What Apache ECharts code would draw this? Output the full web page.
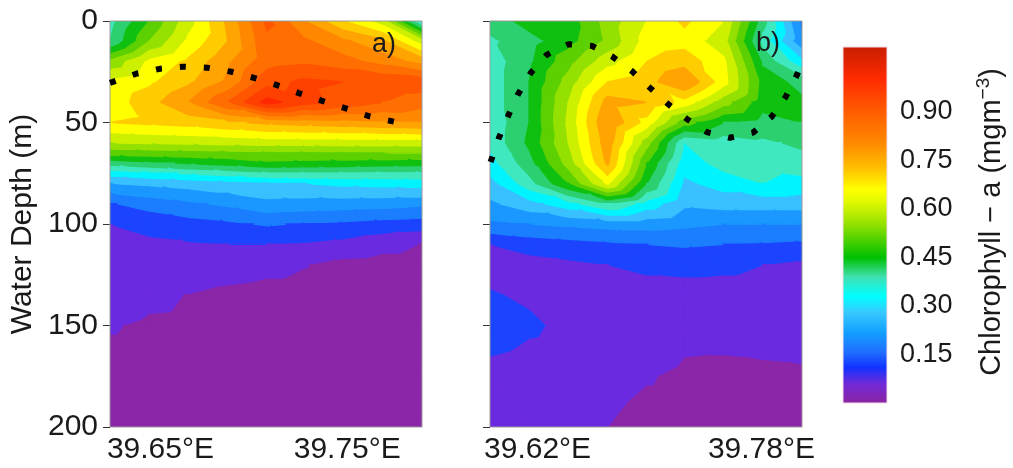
<!DOCTYPE html>
<html>
<head>
<meta charset="utf-8">
<script src="https://cdn.jsdelivr.net/npm/echarts@6/dist/echarts.min.js"></script>
<style>
  html, body { margin: 0; padding: 0; background: #fff; }
  #chart { width: 1013px; height: 468px; }
</style>
</head>
<body>
<div id="chart"></div>
<script>
// ---- Section a) : station longitudes, sample depths, chlorophyll-a (mg m^-3) ----
const lonA = [39.623, 39.644, 39.665, 39.686, 39.707, 39.727, 39.748, 39.769, 39.790];
const depthA = [0, 10, 20, 30, 40, 50, 60, 65, 70, 75, 80, 85, 90, 100, 110, 120, 135, 150, 175, 200];
const chlA = [
  [0.38, 0.50, 0.63, 0.76, 0.91, 0.80, 0.70, 0.62, 0.33],
  [0.40, 0.55, 0.66, 0.75, 0.89, 0.86, 0.81, 0.76, 0.62],
  [0.56, 0.66, 0.71, 0.79, 0.88, 0.89, 0.87, 0.83, 0.78],
  [0.66, 0.69, 0.74, 0.81, 0.93, 0.96, 0.95, 0.94, 0.93],
  [0.67, 0.73, 0.80, 0.90, 1.02, 0.97, 0.93, 0.90, 0.87],
  [0.70, 0.71, 0.72, 0.74, 0.76, 0.77, 0.78, 0.79, 0.80],
  [0.60, 0.605, 0.61, 0.615, 0.62, 0.62, 0.62, 0.62, 0.62],
  [0.52, 0.525, 0.53, 0.535, 0.54, 0.54, 0.545, 0.55, 0.55],
  [0.42, 0.44, 0.455, 0.47, 0.49, 0.485, 0.48, 0.475, 0.47],
  [0.32, 0.335, 0.355, 0.37, 0.39, 0.39, 0.39, 0.385, 0.385],
  [0.25, 0.26, 0.27, 0.28, 0.29, 0.30, 0.31, 0.315, 0.32],
  [0.20, 0.215, 0.23, 0.25, 0.265, 0.265, 0.27, 0.27, 0.27],
  [0.145, 0.17, 0.19, 0.21, 0.235, 0.23, 0.225, 0.22, 0.21],
  [0.10, 0.115, 0.13, 0.14, 0.155, 0.145, 0.14, 0.13, 0.125],
  [0.09, 0.09, 0.095, 0.10, 0.10, 0.095, 0.085, 0.065, 0.048],
  [0.08, 0.08, 0.075, 0.07, 0.062, 0.052, 0.035, 0.03, 0.03],
  [0.065, 0.056, 0.049, 0.04, 0.035, 0.035, 0.03, 0.03, 0.03],
  [0.052, 0.046, 0.045, 0.038, 0.035, 0.03, 0.03, 0.03, 0.03],
  [0.04, 0.04, 0.04, 0.035, 0.03, 0.03, 0.03, 0.03, 0.03],
  [0.035, 0.035, 0.035, 0.03, 0.03, 0.03, 0.03, 0.03, 0.03]
];
// dotted reference depth along section a) [longitude, depth m]
const lineA = [
  [39.623, 30.5], [39.637, 26], [39.650, 23.5], [39.662, 22.5], [39.675, 23],
  [39.688, 25], [39.700, 28], [39.712, 31.5], [39.724, 35.5], [39.737, 39.5],
  [39.750, 43.3], [39.762, 47], [39.776, 49.8]
];

// ---- Section b) ----
const lonB = [39.586, 39.614, 39.642, 39.670, 39.698, 39.725, 39.753, 39.781, 39.809];
const depthB = [0, 10, 20, 30, 40, 50, 60, 70, 80, 90, 100, 110, 120, 135, 150, 175, 200];
const chlB = [
  [0.42, 0.47, 0.47, 0.57, 0.65, 0.71, 0.65, 0.42, 0.18],
  [0.39, 0.43, 0.48, 0.56, 0.67, 0.68, 0.62, 0.38, 0.21],
  [0.37, 0.44, 0.53, 0.63, 0.70, 0.73, 0.66, 0.44, 0.31],
  [0.37, 0.45, 0.57, 0.70, 0.73, 0.80, 0.67, 0.48, 0.43],
  [0.37, 0.45, 0.60, 0.77, 0.75, 0.68, 0.57, 0.47, 0.46],
  [0.36, 0.45, 0.61, 0.80, 0.68, 0.52, 0.45, 0.43, 0.45],
  [0.36, 0.46, 0.60, 0.78, 0.57, 0.35, 0.37, 0.39, 0.41],
  [0.33, 0.43, 0.57, 0.76, 0.50, 0.32, 0.37, 0.37, 0.38],
  [0.28, 0.38, 0.50, 0.66, 0.45, 0.29, 0.32, 0.35, 0.33],
  [0.24, 0.28, 0.33, 0.40, 0.33, 0.26, 0.27, 0.27, 0.27],
  [0.19, 0.20, 0.21, 0.22, 0.22, 0.21, 0.20, 0.20, 0.20],
  [0.10, 0.12, 0.13, 0.14, 0.15, 0.155, 0.15, 0.145, 0.14],
  [0.075, 0.08, 0.09, 0.10, 0.115, 0.12, 0.115, 0.10, 0.09],
  [0.105, 0.09, 0.07, 0.075, 0.07, 0.07, 0.07, 0.07, 0.07],
  [0.13, 0.11, 0.085, 0.07, 0.07, 0.058, 0.058, 0.06, 0.062],
  [0.08, 0.07, 0.065, 0.06, 0.052, 0.045, 0.044, 0.045, 0.046],
  [0.06, 0.06, 0.055, 0.05, 0.04, 0.04, 0.04, 0.04, 0.04]
];
const lineB = [
  [39.5864, 69.5], [39.5924, 57.5], [39.5990, 46.7], [39.6061, 36.0], [39.6152, 25.5],
  [39.6264, 16.7], [39.6419, 11.5], [39.6590, 12.3], [39.6736, 17.6], [39.6871, 24.5],
  [39.7000, 32.7], [39.7129, 40.7], [39.7264, 48.1], [39.7409, 54.7], [39.7574, 57.5],
  [39.7740, 55.0], [39.7874, 47.1], [39.7974, 37.3], [39.8054, 26.6], [39.8088, 21]
];

// ---- axes / legend ticks ----
const depthTicks = [0, 50, 100, 150, 200];
const lonTicksA = [39.65, 39.75];
const lonTicksB = [39.62, 39.78];
const legendTicks = [0.15, 0.30, 0.45, 0.60, 0.75, 0.90];

// contour levels (mg m^-3) and the fill of each band between them
const levels = [0, 0.05, 0.10, 0.15, 0.20, 0.25, 0.30, 0.35, 0.40, 0.45, 0.50, 0.55,
                0.60, 0.65, 0.70, 0.75, 0.80, 0.85, 0.90, 0.95, 1.00, 1.05, 1.10];
const bandColors = [
  '#8b26a8', '#6a2ae0', '#1c44ff', '#1a7eff', '#1a98ff', '#38c0ff', '#00f4ff',
  '#40e8c0', '#2cd070', '#10c010', '#5cd000', '#94e000', '#cdf000', '#ffff00',
  '#ffcc00', '#ffa400', '#ff8800', '#ff6e00', '#ff5600', '#ff4000', '#ff2800', '#d82000'
];
// colour ramp of the legend bar
const rampStops = [
  [0.00, '#8b24a0'], [0.06, '#7229d8'], [0.11, '#1232ff'], [0.16, '#2070ff'],
  [0.22, '#12a0ff'], [0.28, '#38c8ff'], [0.33, '#00ffff'], [0.39, '#40e0b0'],
  [0.45, '#00c000'], [0.55, '#90e000'], [0.62, '#e0f800'], [0.66, '#ffff00'],
  [0.72, '#ffc400'], [0.80, '#ff8a00'], [0.90, '#ff5c00'], [1.00, '#ff2a00'], [1.10, '#c81e00']
];

const FONT = 'Liberation Sans, Arial, Helvetica, sans-serif';
const TXT = '#1a1a1a';

// keep the part of a polygon (points [x, y, value]) on one side of a level
function clipPoly(poly, level, keepAbove) {
  const out = [];
  const n = poly.length;
  for (let i = 0; i < n; i++) {
    const a = poly[i], b = poly[(i + 1) % n];
    const ain = keepAbove ? a[2] >= level : a[2] <= level;
    const bin = keepAbove ? b[2] >= level : b[2] <= level;
    if (ain) out.push(a);
    if (ain !== bin) {
      const t = (level - a[2]) / (b[2] - a[2]);
      out.push([a[0] + t * (b[0] - a[0]), a[1] + t * (b[1] - a[1]), level]);
    }
  }
  return out;
}

// filled-contour series: each grid cell is split in two triangles and cut into bands
function contourSeries(lons, depths, vals, axisIdx) {
  const cells = [];
  for (let r = 0; r < depths.length - 1; r++) {
    for (let c = 0; c < lons.length - 1; c++) {
      cells.push([(lons[c] + lons[c + 1]) / 2, (depths[r] + depths[r + 1]) / 2, c, r]);
    }
  }
  return {
    type: 'custom',
    xAxisIndex: axisIdx,
    yAxisIndex: axisIdx,
    data: cells,
    encode: { x: 0, y: 1 },
    clip: true,
    silent: true,
    z: 1,
    renderItem: function (params, api) {
      const c = api.value(2), r = api.value(3);
      const p00 = [lons[c], depths[r], vals[r][c]];
      const p10 = [lons[c + 1], depths[r], vals[r][c + 1]];
      const p01 = [lons[c], depths[r + 1], vals[r + 1][c]];
      const p11 = [lons[c + 1], depths[r + 1], vals[r + 1][c + 1]];
      const tris = [[p00, p10, p11], [p00, p11, p01]];
      const children = [];
      tris.forEach(function (tri) {
        for (let k = 0; k < bandColors.length; k++) {
          let poly = tri;
          if (k > 0) poly = clipPoly(poly, levels[k], true);
          if (poly.length < 3) continue;
          if (k < bandColors.length - 1) poly = clipPoly(poly, levels[k + 1], false);
          if (poly.length < 3) continue;
          const pts = poly.map(function (p) { return api.coord([p[0], p[1]]); });
          children.push({
            type: 'polygon',
            shape: { points: pts },
            style: { fill: bandColors[k], stroke: bandColors[k], lineWidth: 1.4, lineJoin: 'round' }
          });
        }
      });
      return { type: 'group', children: children };
    }
  };
}

function dottedLine(points, axisIdx) {
  return {
    type: 'line',
    xAxisIndex: axisIdx,
    yAxisIndex: axisIdx,
    data: points,
    symbol: 'none',
    silent: true,
    clip: true,
    z: 5,
    lineStyle: { color: '#000', width: 6, type: [6, 18], cap: 'butt' }
  };
}

function lonAxis(gridIdx, min, max, ticks) {
  return {
    type: 'value', gridIndex: gridIdx, min: min, max: max,
    axisLine: { show: false },
    splitLine: { show: false },
    axisTick: { show: true, length: 6, customValues: ticks, lineStyle: { color: '#333', width: 1 } },
    axisLabel: {
      customValues: ticks, margin: 8, fontSize: 30, fontFamily: FONT, color: TXT,
      formatter: function (v) { return v.toFixed(2) + '°E'; }
    }
  };
}

function depthAxis(gridIdx, showLabels) {
  return {
    type: 'value', gridIndex: gridIdx, min: 0, max: 200, interval: 50, inverse: true,
    axisLine: { show: false },
    splitLine: { show: false },
    axisTick: { show: true, length: 7, customValues: depthTicks, lineStyle: { color: '#333', width: 1 } },
    axisLabel: {
      show: showLabels, customValues: depthTicks, margin: 12, fontSize: 30, fontFamily: FONT, color: TXT
    },
    name: showLabels ? 'Water Depth (m)' : '',
    nameLocation: 'middle',
    nameRotate: 90,
    nameGap: 72,
    nameTextStyle: { fontSize: 30, fontFamily: FONT, color: TXT }
  };
}

const chart = echarts.init(document.getElementById('chart'), null, { renderer: 'canvas' });

const legendAxisBase = {
  type: 'value', gridIndex: 2, min: 0, max: 1.1,
  axisLine: { show: false },
  splitLine: { show: false }
};

chart.setOption({
  animation: false,
  backgroundColor: '#ffffff',
  grid: [
    { left: 110, top: 21, width: 312, height: 406, show: true, borderColor: '#9a9a9a', borderWidth: 1, backgroundColor: 'transparent', z: 3 },
    { left: 490, top: 21, width: 312, height: 406, show: true, borderColor: '#9a9a9a', borderWidth: 1, backgroundColor: 'transparent', z: 3 },
    { left: 843, top: 47, width: 44, height: 356, show: false }
  ],
  xAxis: [
    lonAxis(0, 39.623, 39.790, lonTicksA),
    lonAxis(1, 39.586, 39.809, lonTicksB),
    { type: 'value', gridIndex: 2, min: 0, max: 1, show: false }
  ],
  yAxis: [
    depthAxis(0, true),
    depthAxis(1, false),
    Object.assign({}, legendAxisBase, {
      position: 'right',
      axisTick: { show: true, inside: true, length: 6, customValues: legendTicks, lineStyle: { color: 'rgba(255,255,255,0.8)', width: 1 } },
      axisLabel: {
        customValues: legendTicks, margin: 13, fontSize: 27, fontFamily: FONT, color: TXT,
        formatter: function (v) { return v.toFixed(2); }
      }
    }),
    Object.assign({}, legendAxisBase, {
      position: 'left',
      axisTick: { show: true, inside: true, length: 6, customValues: legendTicks, lineStyle: { color: 'rgba(255,255,255,0.8)', width: 1 } },
      axisLabel: { show: false }
    })
  ],
  series: [
    contourSeries(lonA, depthA, chlA, 0),
    contourSeries(lonB, depthB, chlB, 1),
    dottedLine(lineA, 0),
    dottedLine(lineB, 1),
    {
      // legend colour bar
      type: 'custom',
      xAxisIndex: 2,
      yAxisIndex: 2,
      data: [[0.5, 0.55]],
      silent: true,
      z: 1,
      renderItem: function (params, api) {
        const top = api.coord([0, 1.1]);
        const bot = api.coord([1, 0]);
        const stops = rampStops.map(function (s) {
          return { offset: 1 - s[0] / 1.1, color: s[1] };
        }).sort(function (a, b) { return a.offset - b.offset; });
        return {
          type: 'rect',
          shape: { x: top[0], y: top[1], width: bot[0] - top[0], height: bot[1] - top[1] },
          style: {
            fill: new echarts.graphic.LinearGradient(0, 0, 0, 1, stops),
            stroke: '#f2dce8', lineWidth: 1
          }
        };
      }
    }
  ],
  graphic: [
    { type: 'text', left: 372, top: 31, z: 10,
      style: { text: 'a)', fontSize: 27, fontFamily: FONT, fill: TXT } },
    { type: 'text', left: 756, top: 30, z: 10,
      style: { text: 'b)', fontSize: 27, fontFamily: FONT, fill: TXT } },
    { type: 'text', x: 992, y: 222, rotation: Math.PI / 2, z: 10,
      style: {
        text: '{t|Chlorophyll − a (mgm}{s|−3}{t|)}',
        align: 'center', verticalAlign: 'middle',
        fontFamily: FONT, fill: TXT,
        rich: {
          t: { fontSize: 29, fontFamily: FONT, color: TXT, lineHeight: 36 },
          s: { fontSize: 19, fontFamily: FONT, color: TXT, lineHeight: 19, verticalAlign: 'top' }
        }
      } }
  ]
});
</script>
</body>
</html>
